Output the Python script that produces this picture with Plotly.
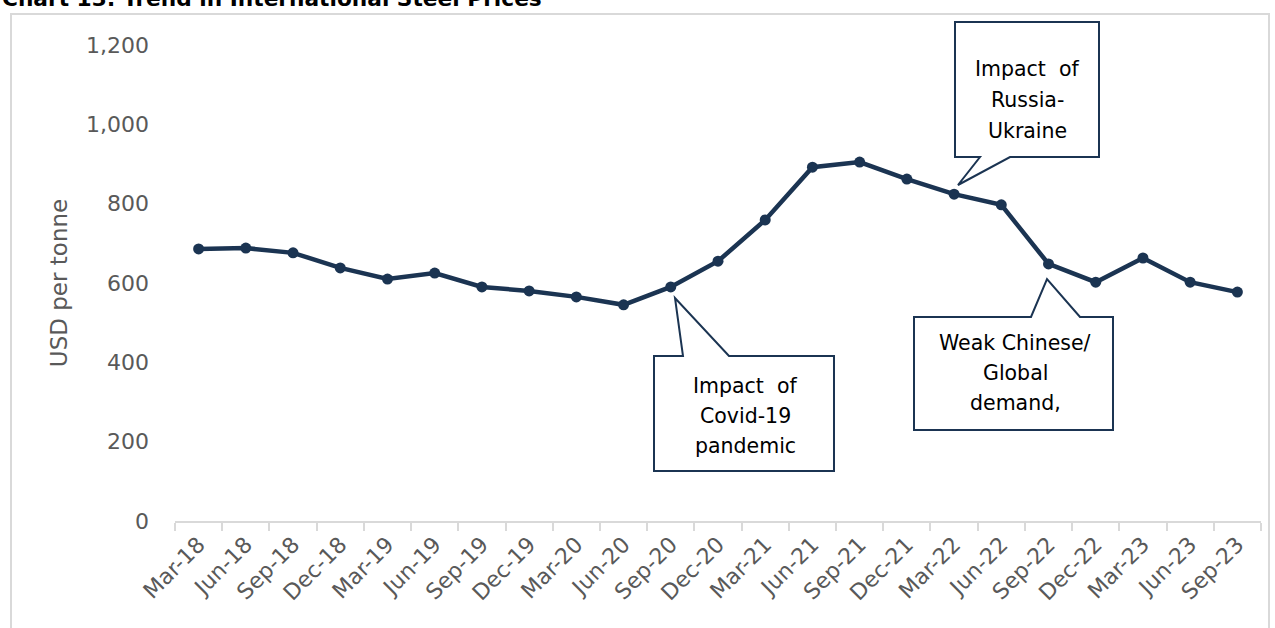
import plotly.graph_objects as go

categories = ["Mar-18", "Jun-18", "Sep-18", "Dec-18", "Mar-19", "Jun-19", "Sep-19", "Dec-19",
              "Mar-20", "Jun-20", "Sep-20", "Dec-20", "Mar-21", "Jun-21", "Sep-21", "Dec-21",
              "Mar-22", "Jun-22", "Sep-22", "Dec-22", "Mar-23", "Jun-23", "Sep-23"]
prices = [686, 688, 676, 638, 610, 625, 590, 580, 565, 545, 590, 655, 759, 892, 905, 862,
          824, 797, 648, 602, 663, 602, 577]
y_ticks = [0, 200, 400, 600, 800, 1000, 1200]
title_text = "Chart 13: Trend in International Steel Prices"
callout_lines = [
    ["Impact  of", "Covid-19", "pandemic"],
    ["Impact  of", "Russia-", "Ukraine"],
    ["Weak Chinese/", "Global", "demand,"],
]

FIG_W, FIG_H = 1275, 628
L, R, T, B = 175, 14, 45, 107
W = FIG_W - L - R
H = FIG_H - T - B
NAVY = "#1B3452"

def px(x):
    return (x - L) / W

def py(y):
    return (FIG_H - B - y) / H

fig = go.Figure()
fig.add_trace(go.Scatter(
    x=categories, y=prices, mode="lines+markers",
    line=dict(color=NAVY, width=4.5),
    marker=dict(color=NAVY, size=11),
    showlegend=False, hoverinfo="x+y",
))

def callout(box, base, tip, side):
    x0, y0, x1, y1 = box
    bl, br = base
    tx, ty = tip
    if side == "top":
        pts = [(x0, y0), (bl, y0), (tx, ty), (br, y0), (x1, y0), (x1, y1), (x0, y1)]
    else:
        pts = [(x0, y0), (x1, y0), (x1, y1), (br, y1), (tx, ty), (bl, y1), (x0, y1)]
    d = "M " + " L ".join(f"{px(a):.5f},{py(b):.5f}" for a, b in pts) + " Z"
    fig.add_shape(type="path", path=d, xref="paper", yref="paper",
                  line=dict(color=NAVY, width=2), fillcolor="white", layer="above")

shapes_spec = [
    ((654, 356, 834, 471), (683, 729), (675, 298), "top"),
    ((955, 22, 1099, 157), (980, 1010), (958, 185), "bottom"),
    ((914, 317, 1113, 430), (1031, 1080), (1047, 279), "top"),
]
for s in shapes_spec:
    callout(*s)

text_pos = [
    (745, [386, 416, 446]),
    (1027, [69, 100, 131]),
    (1015, [343, 373, 403]),
]
for lines, (x, ys) in zip(callout_lines, text_pos):
    for txt, y in zip(lines, ys):
        fig.add_annotation(text=txt, x=px(x), y=py(y), xref="paper", yref="paper",
                           xanchor="center", yanchor="middle",
                           showarrow=False, align="center",
                           font=dict(family="DejaVu Sans", size=20.5, color="#000000"))

# outer chart border
fig.add_shape(type="rect", xref="paper", yref="paper",
              x0=px(11), y0=py(14), x1=px(1269), y1=py(650),
              line=dict(color="#D9D9D9", width=2), layer="below")

fig.add_annotation(text="<b>" + title_text + "</b>", x=px(0), y=py(13.5), xref="paper", yref="paper",
                   xanchor="left", yanchor="bottom", showarrow=False,
                   font=dict(family="DejaVu Sans", size=21.7, color="#000000"))

fig.update_layout(
    width=FIG_W, height=FIG_H,
    margin=dict(l=L, r=R, t=T, b=B, pad=0),
    paper_bgcolor="white", plot_bgcolor="white",
    font=dict(family="DejaVu Sans", color="#595959"),
    xaxis=dict(
        type="category", range=[-0.5, len(categories) - 0.5], tickangle=-45,
        tickfont=dict(size=22, color="#595959"),
        showline=True, linecolor="#D9D9D9", linewidth=2,
        ticks="outside", tickson="boundaries", ticklen=8, tickcolor="#D9D9D9", tickwidth=2,
        showgrid=False, zeroline=False,
    ),
    yaxis=dict(
        range=[0, 1200], tickvals=y_ticks, tickformat=",",
        tickfont=dict(size=22, color="#595959"),
        showgrid=False, zeroline=False, showline=False, ticks="",
        ticklabelstandoff=25,
        title=dict(text="USD per tonne", font=dict(size=23, color="#595959"), standoff=11),
    ),
)

fig.write_html("out.html")
